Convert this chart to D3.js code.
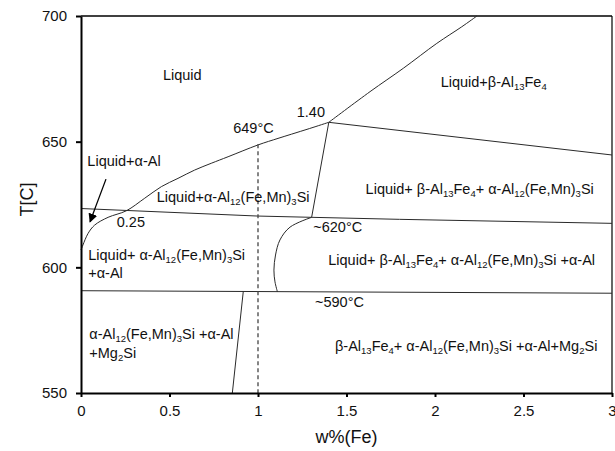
<!DOCTYPE html>
<html>
<head>
<meta charset="utf-8">
<script src="https://cdn.jsdelivr.net/npm/d3@7"></script>
<style>
  body { margin: 0; background: #fff; }
  svg text { font-family: "Liberation Sans", Arial, Helvetica, sans-serif; fill: #111; }
  .phase { stroke: #2a2a2a; stroke-width: 1; fill: none; }
  .axis path, .axis line { stroke: #000; stroke-width: 2; }
  .axis text { font-size: 15px; }
</style>
</head>
<body>
<div id="diagram"></div>
<script>
// boundary lines of the phase diagram, [w%(Fe), T]
var liquidusAlpha = [[0,606.9],[0.011,608.9],[0.040,613.5],[0.077,616.8],[0.153,619.9],[0.256,622.5],
  [0.360,627.5],[0.454,632.1],[0.548,635.4],[0.642,638.7],[0.736,641.4],[0.831,644.0],[1.0,648.7],
  [1.113,651.3],[1.19,653.0],[1.29,655.2],[1.4,657.7]];
var liquidusBeta = [[1.4,657.7],[1.633,669.9],[1.821,679.2],[2.010,689.1],[2.151,695.7],[2.237,700]];
var betaAlphaLine = [[1.4,657.7],[3,644.7]];
var line620 = [[0,623.4],[1,620.4],[1.303,619.9],[1.8,619.1],[3,617.5]];
var betaBoundary = [[1.4,657.7],[1.303,619.9]];
var alAlphaCurve = [[1.303,619.9],[1.181,616.0],[1.124,610.9],[1.099,604.9],[1.09,598.9],[1.096,594.2],[1.11,590.2]];
var line590 = [[0,590.7],[3,589.7]];
var lowBoundary = [[0.917,590.5],[0.855,550]];
var alloyLine = [[1,649],[1,550]];
var arrowLine = [[0.141,635.1],[0.051,618.1]];

var xTicks = [0,0.5,1,1.5,2,2.5,3];
var yTicks = [550,600,650,700];

// region labels: text, w, T  (_n = subscript)
var labels = [
  ["Liquid",0.463,674.5],
  ["Liquid+β-Al_13Fe_4",2.032,671.75],
  ["1.40",1.219,659.7],
  ["649°C",0.86,653.3],
  ["Liquid+α-Al",0.036,640.4],
  ["Liquid+α-Al_12(Fe,Mn)_3Si",0.428,625.9],
  ["0.25",0.202,615.9],
  ["Liquid+ β-Al_13Fe_4+ α-Al_12(Fe,Mn)_3Si",1.608,629.2],
  ["~620°C",1.312,613.9],
  ["Liquid+ α-Al_12(Fe,Mn)_3Si",0.041,602.9],
  ["+α-Al",0.041,595.6],
  ["Liquid+ β-Al_13Fe_4+ α-Al_12(Fe,Mn)_3Si +α-Al",1.397,600.9],
  ["~590°C",1.322,584.1],
  ["α-Al_12(Fe,Mn)_3Si +α-Al",0.047,571.4],
  ["+Mg_2Si",0.047,564.0],
  ["β-Al_13Fe_4+ α-Al_12(Fe,Mn)_3Si +α-Al+Mg_2Si",1.435,566.8]
];

var totalW = 615, totalH = 451;
var margin = {top:16,right:3,bottom:58,left:81};
var width = totalW-margin.left-margin.right,
  height = totalH-margin.top-margin.bottom;

var svg = d3.select('#diagram').append('svg')
  .attr('width',totalW).attr('height',totalH);

svg.append('defs').append('marker')
  .attr('id','arrow').attr('viewBox','0 0 10 10')
  .attr('refX',9).attr('refY',5)
  .attr('markerWidth',9).attr('markerHeight',9)
  .attr('markerUnits','userSpaceOnUse')
  .attr('orient','auto')
  .append('path').attr('d','M0,0 L10,5 L0,10 z').attr('fill','#000');

var g = svg.append('g').attr('transform','translate('+margin.left+','+margin.top+')');

var x = d3.scaleLinear().domain([0,3]).range([0,width]);
var y = d3.scaleLinear().domain([550,700]).range([height,0]);

var line = d3.line().x(d=>x(d[0])).y(d=>y(d[1]));
var smooth = d3.line().x(d=>x(d[0])).y(d=>y(d[1])).curve(d3.curveCatmullRom);

// frame top / right
g.append('line').attr('x1',0).attr('x2',width).attr('y1',0).attr('y2',0)
  .attr('stroke','#000').attr('stroke-width',1.6);
g.append('line').attr('x1',width).attr('x2',width).attr('y1',0).attr('y2',height)
  .attr('stroke','#000').attr('stroke-width',1.2);

[betaAlphaLine,line620,betaBoundary,line590,lowBoundary].forEach(function(d){
  g.append('path').classed('phase',true).attr('d',line(d));
});
[liquidusAlpha,liquidusBeta,alAlphaCurve].forEach(function(d){
  g.append('path').classed('phase',true).attr('d',smooth(d));
});

g.append('path').attr('d',line(alloyLine))
  .attr('stroke','#444').attr('stroke-width',1.3).attr('stroke-dasharray','4,3').attr('fill','none');

g.append('path').attr('d',line(arrowLine))
  .attr('stroke','#000').attr('stroke-width',1.3).attr('fill','none')
  .attr('marker-end','url(#arrow)');

g.append('g').classed('axis',true)
  .attr('transform','translate(0,'+height+')')
  .call(d3.axisBottom(x).tickValues(xTicks).tickFormat(d3.format('')).tickSize(4).tickPadding(8).tickSizeOuter(0));

g.append('g').classed('axis',true)
  .call(d3.axisLeft(y).tickValues(yTicks).tickSize(5).tickPadding(9).tickSizeOuter(0));

function addLabel(str,px,py){
  var t = g.append('text').attr('x',px).attr('y',py).attr('font-size','14.5px');
  var parts = str.split(/_(\d+)/);
  var shifted = false;
  parts.forEach(function(p,i){
    if(p==='') return;
    if(i%2===1){
      t.append('tspan').attr('font-size','9.5px').attr('dy',shifted?0:3).text(p);
      shifted = true;
    } else {
      var s = t.append('tspan').text(p);
      if(shifted){ s.attr('dy',-3); shifted = false; }
    }
  });
}

labels.forEach(function(d){ addLabel(d[0],x(d[1]),y(d[2])); });

svg.append('text')
  .attr('x',margin.left+width/2).attr('y',443)
  .attr('text-anchor','middle').attr('font-size','18px')
  .text('w%(Fe)');

svg.append('text')
  .attr('transform','translate(33,'+(margin.top+height/2-5)+') rotate(-90)')
  .attr('text-anchor','middle').attr('font-size','18px')
  .text('T[C]');
</script>
</body>
</html>
